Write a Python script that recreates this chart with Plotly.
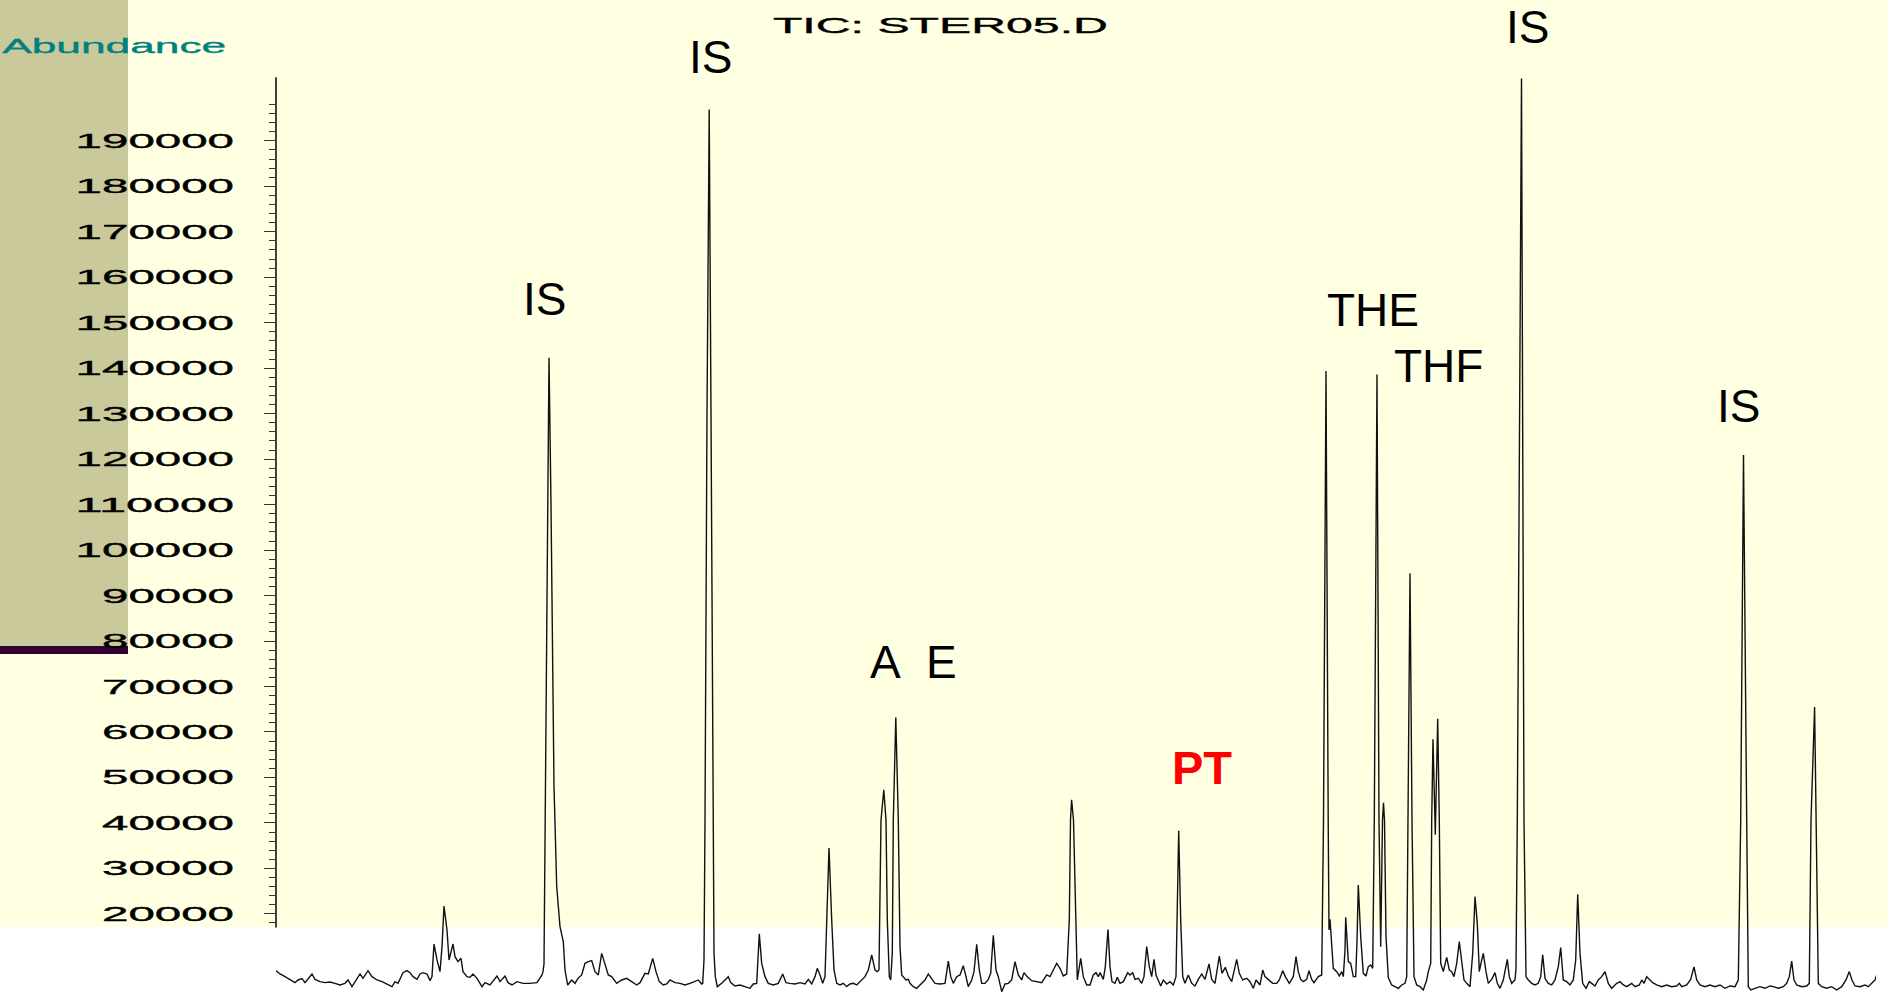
import json
import plotly.graph_objects as go

# ---------------------------------------------------------------------------
# Total ion chromatogram, retention time (min) vs abundance (counts)
# ---------------------------------------------------------------------------
rt_a = [8.00, 8.04, 8.09, 8.14, 8.19, 8.22, 8.26, 8.29, 8.32, 8.36,
        8.39, 8.44, 8.49, 8.54, 8.59, 8.64, 8.69, 8.72, 8.76, 8.79,
        8.84, 8.87, 8.92, 8.96, 9.01, 9.06, 9.09, 9.12, 9.16, 9.19,
        9.22, 9.27, 9.31, 9.34, 9.37, 9.41, 9.44, 9.47, 9.51, 9.54,
        9.56, 9.58, 9.61, 9.64, 9.66, 9.68, 9.71, 9.73, 9.77, 9.79,
        9.82, 9.85, 9.87, 9.91, 9.94, 9.97, 10.01, 10.06, 10.09, 10.14,
        10.21, 10.24, 10.29, 10.32, 10.36, 10.41, 10.47, 10.54, 10.61, 10.66,
        10.67, 10.68, 10.693, 10.71, 10.73, 10.75, 10.78, 10.807, 10.84, 10.873,
        10.89, 10.917, 10.957, 10.99, 11.02, 11.057, 11.09, 11.123, 11.157, 11.19,
        11.223, 11.257, 11.29, 11.323, 11.357, 11.407, 11.457, 11.507, 11.557, 11.607,
        11.64, 11.69, 11.723, 11.767, 11.8, 11.833, 11.873, 11.907, 11.94, 11.99]
tic_a = [7510, 6780, 6190, 5460, 4870, 5460, 5750, 4870, 5750, 6780,
         5600, 5090, 4870, 5020, 4720, 4360, 4720, 5460, 3990, 5090,
         6780, 5820, 7510, 6190, 5460, 5090, 4720, 4360, 3990, 5090,
         4720, 7070, 7510, 7070, 6190, 5600, 6780, 7070, 6780, 5310,
         6190, 13370, 9860, 7290, 12790, 21730, 16450, 9860, 13370, 10590,
         9490, 10220, 7290, 6190, 6040, 6780, 5820, 3990, 4870, 4360,
         6340, 5090, 6340, 4870, 4360, 5090, 4720, 4720, 4870, 6560,
         7290, 9000, 40600, 100000, 142300, 110000, 48000, 26000, 17200, 13900,
         7650, 4350, 5460, 4720, 5820, 6560, 9120, 9490, 9710, 7290,
         6560, 11320, 9120, 6560, 6190, 4720, 5460, 5820, 5090, 4360,
         4870, 6920, 6780, 10220, 7290, 5090, 4360, 4580, 5460, 4870]

rt_b = [12.04, 12.09, 12.14, 12.19, 12.223, 12.257, 12.267, 12.28, 12.29, 12.31,
        12.332, 12.35, 12.367, 12.38, 12.393, 12.413, 12.457, 12.507, 12.523, 12.547,
        12.59, 12.64, 12.69, 12.74, 12.773, 12.807, 12.833, 12.857, 12.89, 12.923,
        12.973, 13.023, 13.067, 13.1, 13.14, 13.19, 13.24, 13.29, 13.323, 13.357,
        13.39, 13.413, 13.44, 13.467, 13.49, 13.53, 13.557, 13.58, 13.607, 13.64,
        13.673, 13.707, 13.74, 13.773, 13.807, 13.857, 13.89, 13.923, 13.957, 13.99,
        14.013, 14.03, 14.05, 14.078, 14.10, 14.113, 14.133, 14.147, 14.163, 14.173,
        14.198, 14.223, 14.24, 14.257, 14.273, 14.30, 14.323, 14.34, 14.373, 14.407,
        14.44, 14.49, 14.523, 14.557, 14.59, 14.64, 14.69, 14.723, 14.747, 14.773,
        14.807, 14.84, 14.873, 14.90, 14.923, 14.957, 14.98, 15.007, 15.033, 15.057,
        15.09, 15.123, 15.147, 15.173, 15.20, 15.223, 15.257, 15.29, 15.323, 15.357,
        15.39, 15.423, 15.457, 15.48, 15.513, 15.557, 15.607, 15.657, 15.707, 15.74,
        15.773, 15.807, 15.84, 15.873, 15.907, 15.933, 15.945, 15.956, 15.975, 16.0,
        16.013, 16.047, 16.073, 16.107]
tic_b = [4720, 4360, 4720, 5090, 5460, 4580, 4720, 9860, 40600, 130000,
         196900, 130000, 40600, 11320, 6190, 3990, 4720, 5820, 6190, 4870,
         4140, 4360, 3990, 3630, 4580, 4720, 15600, 9120, 6190, 4720,
         4360, 4720, 6780, 4870, 4720, 4580, 4870, 4580, 5600, 4580,
         6190, 8020, 6560, 4720, 6190, 34500, 18650, 7650, 4720, 4360,
         4720, 3990, 4580, 4720, 4360, 5460, 6190, 7650, 10960, 7650,
         7290, 7650, 40600, 47300, 40600, 18650, 6190, 5460, 11320, 40600,
         63200, 40600, 12790, 6560, 6190, 5460, 5600, 4720, 3990, 3630,
         4360, 5460, 6780, 5600, 4720, 4580, 4720, 9600, 6190, 4720,
         6190, 6560, 8610, 6190, 3990, 5460, 7290, 13300, 7650, 4720,
         4720, 5600, 6920, 15300, 7650, 6190, 2890, 4580, 4720, 5460,
         9490, 6560, 5460, 7070, 6190, 5310, 5090, 4870, 6560, 6190,
         7650, 9120, 8020, 6340, 6780, 18650, 40600, 45100, 40600, 18650,
         5460, 10220, 6190, 4360]

rt_c = [16.14, 16.173, 16.20, 16.223, 16.24, 16.273, 16.293, 16.32, 16.34, 16.36,
        16.39, 16.413, 16.44, 16.473, 16.517, 16.54, 16.567, 16.59, 16.623, 16.657,
        16.68, 16.707, 16.733, 16.757, 16.78, 16.80, 16.823, 16.847, 16.873, 16.907,
        16.94, 16.973, 17.0, 17.027, 17.047, 17.067, 17.09, 17.123, 17.157, 17.19,
        17.223, 17.257, 17.29, 17.33, 17.357, 17.39, 17.433, 17.46, 17.493, 17.523,
        17.557, 17.607, 17.633, 17.667, 17.707, 17.74, 17.773, 17.80, 17.84, 17.867,
        17.89, 17.923, 17.967, 18.007, 18.033, 18.067, 18.093, 18.133, 18.173, 18.20,
        18.223, 18.247, 18.273, 18.307, 18.33, 18.357, 18.38, 18.423, 18.457, 18.475,
        18.50, 18.522, 18.53, 18.54, 18.573, 18.607, 18.633, 18.657, 18.673, 18.69,
        18.697, 18.723, 18.747, 18.773, 18.797, 18.81, 18.823, 18.847, 18.873, 18.90,
        18.923, 18.947, 18.967, 18.983, 19.01, 19.03, 19.047, 19.065, 19.075, 19.085,
        19.10, 19.123, 19.157, 19.19, 19.223, 19.257, 19.29, 19.307, 19.32, 19.34,
        19.36, 19.38, 19.407, 19.44, 19.473, 19.507, 19.523, 19.547, 19.557, 19.57,
        19.593, 19.617, 19.633, 19.647, 19.673, 19.707, 19.733, 19.757, 19.78, 19.807,
        19.833, 19.857, 19.88, 19.907, 19.94, 19.967, 19.99, 20.013, 20.033, 20.057,
        20.073, 20.10, 20.123]
tic_c = [4360, 6560, 7070, 6190, 7070, 5600, 8390, 16560, 8390, 5090,
         4720, 6040, 4720, 5090, 7070, 6560, 7070, 5600, 5820, 4720,
         6190, 12790, 8390, 6190, 10000, 6560, 5460, 4140, 5460, 4580,
         5090, 4360, 6190, 38300, 18650, 6190, 4720, 6560, 4720, 4140,
         5600, 6780, 5600, 8980, 5600, 4720, 10730, 6920, 8240, 6340,
         5090, 10000, 6920, 5460, 5820, 5090, 3630, 5460, 4360, 7650,
         6190, 5460, 4720, 4720, 5460, 7510, 6190, 4720, 6190, 10590,
         7290, 5600, 5090, 5600, 7510, 5600, 4870, 6190, 6560, 40600,
         139400, 40600, 16450, 18800, 8020, 7290, 6340, 7290, 6190, 12000,
         19240, 9490, 9120, 6190, 6190, 14000, 26350, 14990, 6920, 6340,
         8390, 8760, 8020, 40600, 138600, 40600, 12790, 40600, 44400, 40600,
         15000, 6000, 4360, 3990, 3630, 4360, 4720, 6190, 40600, 94900,
         40600, 6190, 4360, 3990, 3260, 5460, 7290, 9120, 40600, 58400,
         37400, 62900, 40600, 9120, 7290, 10440, 7650, 7290, 6190, 9120,
         13890, 9120, 5460, 4720, 3990, 11320, 23780, 17920, 7290, 9860,
         11320, 7290, 4720]

rt_d = [20.157, 20.19, 20.213, 20.24, 20.273, 20.313, 20.333, 20.357, 20.39, 20.40,
        20.413, 20.455, 20.48, 20.50, 20.523, 20.557, 20.59, 20.623, 20.647, 20.667,
        20.69, 20.723, 20.757, 20.79, 20.823, 20.847, 20.873, 20.907, 20.94, 20.973,
        20.997, 21.017, 21.04, 21.067, 21.10, 21.133, 21.157, 21.19, 21.223, 21.257,
        21.29, 21.323, 21.357, 21.407, 21.44, 21.473, 21.507, 21.557, 21.59, 21.633,
        21.657, 21.68, 21.707, 21.733, 21.767, 21.807, 21.857, 21.907, 21.957, 22.007,
        22.033, 22.057, 22.107, 22.147, 22.18, 22.207, 22.24, 22.29, 22.34, 22.39,
        22.44, 22.49, 22.54, 22.59, 22.623, 22.647, 22.675, 22.707, 22.723, 22.747,
        22.79, 22.84, 22.89, 22.94, 22.973, 23.023, 23.073, 23.107, 23.133, 23.157,
        23.18, 23.207, 23.257, 23.307, 23.333, 23.35, 23.386, 23.40, 23.423, 23.457,
        23.507, 23.557, 23.607, 23.657, 23.70, 23.733, 23.76, 23.79, 23.84, 23.89,
        23.923, 23.957, 23.99, 24.007]
tic_d = [5600, 7070, 4720, 3630, 5460, 10000, 6190, 4720, 5460, 8000,
         40600, 203700, 40600, 6190, 5460, 4720, 4360, 4720, 6190, 11000,
         5820, 4720, 4360, 5460, 8390, 12600, 5460, 5090, 4360, 5460,
         9860, 24300, 11320, 4720, 3630, 5090, 4720, 4140, 5460, 6190,
         7290, 4720, 3630, 4720, 5090, 4360, 3990, 4720, 3990, 4360,
         5460, 4720, 6190, 5600, 4870, 4360, 3990, 4360, 3990, 4140,
         4720, 3990, 4360, 5600, 8350, 5460, 4360, 3990, 4360, 3990,
         4360, 3630, 4140, 3990, 5460, 40600, 120900, 40600, 3990, 3260,
         3630, 3990, 3630, 4140, 3990, 3630, 3990, 4720, 6190, 9600,
         5460, 4360, 3990, 4140, 4720, 40600, 65500, 40600, 4720, 3990,
         3630, 3990, 3260, 3990, 5460, 7300, 5460, 4140, 3990, 4360,
         3990, 4720, 5460, 6560]

retention = rt_a + rt_b + rt_c + rt_d
abundance = tic_a + tic_b + tic_c + tic_d
assert len(retention) == len(abundance)

# Peak identifications
peak_names = ["IS", "IS", "A", "E", "PT", "THE", "THF", "IS", "IS"]
label_rt = [10.68, 12.34, 14.09, 14.65, 17.26, 18.97, 19.62, 20.51, 22.62]
label_abund = [155200, 208400, 75400, 75400, 52100, 152800, 140500, 215000, 131700]

# Y axis ticks
major_ticks = list(range(20000, 190001, 10000))
tick_labels = [str(v) for v in major_ticks]
minor_ticks = [v for v in range(18000, 198001, 2000) if v % 10000]

TITLE = "TIC: STER05.D"
Y_LABEL = "Abundance"

# ---------------------------------------------------------------------------
# Styling
# ---------------------------------------------------------------------------
W, H = 1888, 994
ML, MR = 276, 12
PW = W - ML - MR
BG = "#FFFFE2"
OLIVE = "#C9C99B"
PURPLE = "#330033"
TEAL = "#008080"
FONT = "Liberation Sans, Arial, sans-serif"


def px_x(px):
    return (px - ML) / PW


def px_y(py):
    return 1 - py / H


fig = go.Figure()
fig.add_trace(go.Scatter(
    x=retention, y=abundance, mode="lines",
    line=dict(color="#111111", width=1.4),
    hoverinfo="skip", showlegend=False,
))

shapes = [
    # olive panel with purple rule under it
    dict(type="rect", xref="paper", yref="paper", layer="below",
         x0=px_x(0), x1=px_x(128), y0=px_y(646), y1=px_y(0),
         fillcolor=OLIVE, line=dict(width=0)),
    dict(type="rect", xref="paper", yref="paper", layer="below",
         x0=px_x(0), x1=px_x(128), y0=px_y(654), y1=px_y(646),
         fillcolor=PURPLE, line=dict(width=0)),
    # white band along the bottom
    dict(type="rect", xref="paper", yref="paper", layer="below",
         x0=px_x(0), x1=px_x(W), y0=0, y1=px_y(927),
         fillcolor="white", line=dict(width=0)),
    # abundance axis line
    dict(type="line", xref="paper", yref="y", layer="above",
         x0=0, x1=0, y0=17000, y1=204000,
         line=dict(color="black", width=1.5)),
]

annotations = [
    dict(text=TITLE, xref="paper", yref="paper", x=px_x(940), y=px_y(26),
         xanchor="center", yanchor="middle", showarrow=False,
         font=dict(family=FONT, size=22, color="black")),
    dict(text=Y_LABEL, xref="paper", yref="paper", x=px_x(114), y=px_y(45),
         xanchor="center", yanchor="middle", showarrow=False,
         font=dict(family=FONT, size=21, color=TEAL)),
]
for name, x, y in zip(peak_names, label_rt, label_abund):
    is_pt = name == "PT"
    annotations.append(dict(
        text=name, x=x, y=y, xref="x", yref="y", showarrow=False,
        xanchor="center", yanchor="middle",
        font=dict(family=FONT, size=47 if is_pt else 46,
                  color="#FF0000" if is_pt else "black",
                  weight="bold" if is_pt else "normal"),
    ))

fig.update_layout(
    width=W, height=H, autosize=False,
    margin=dict(l=ML, r=MR, t=0, b=0, pad=0),
    paper_bgcolor=BG, plot_bgcolor=BG,
    shapes=shapes, annotations=annotations,
    showlegend=False,
    xaxis=dict(range=[8.0, 24.0], visible=False, fixedrange=True),
    yaxis=dict(
        range=[2375, 220980], fixedrange=True,
        showline=False, showgrid=False, zeroline=False,
        tickmode="array", tickvals=major_ticks, ticktext=tick_labels,
        ticks="outside", ticklen=11, tickwidth=1, tickcolor="#333333",
        ticklabelstandoff=26,
        tickfont=dict(family=FONT, size=20, color="black"),
        minor=dict(tickmode="array", tickvals=minor_ticks, ticks="outside",
                   ticklen=6, tickwidth=1, tickcolor="#333333", showgrid=False),
    ),
)

# The instrument printout uses a horizontally extended face; widen the
# axis numbers and header texts to that set width.
wide_text = {TITLE: 335, Y_LABEL: 224}
digit_width = 26.4
post_js = """
var gd = document.getElementById('{plot_id}');
document.body.style.margin = '0';
var wide = """ + json.dumps(wide_text) + """;
var digitW = """ + str(digit_width) + """;
function widen(t, w) {
  t.setAttribute('textLength', w);
  t.setAttribute('lengthAdjust', 'spacingAndGlyphs');
  t.style.strokeWidth = '0.35px';
  t.style.stroke = t.style.fill || window.getComputedStyle(t).fill;
}
gd.querySelectorAll('.ytick text').forEach(function (t) {
  widen(t, digitW * t.textContent.length);
});
gd.querySelectorAll('.annotation-text').forEach(function (t) {
  var w = wide[t.textContent];
  if (w) { widen(t, w); }
});
"""

fig.write_html("out.html", post_script=post_js, config={"staticPlot": True})
